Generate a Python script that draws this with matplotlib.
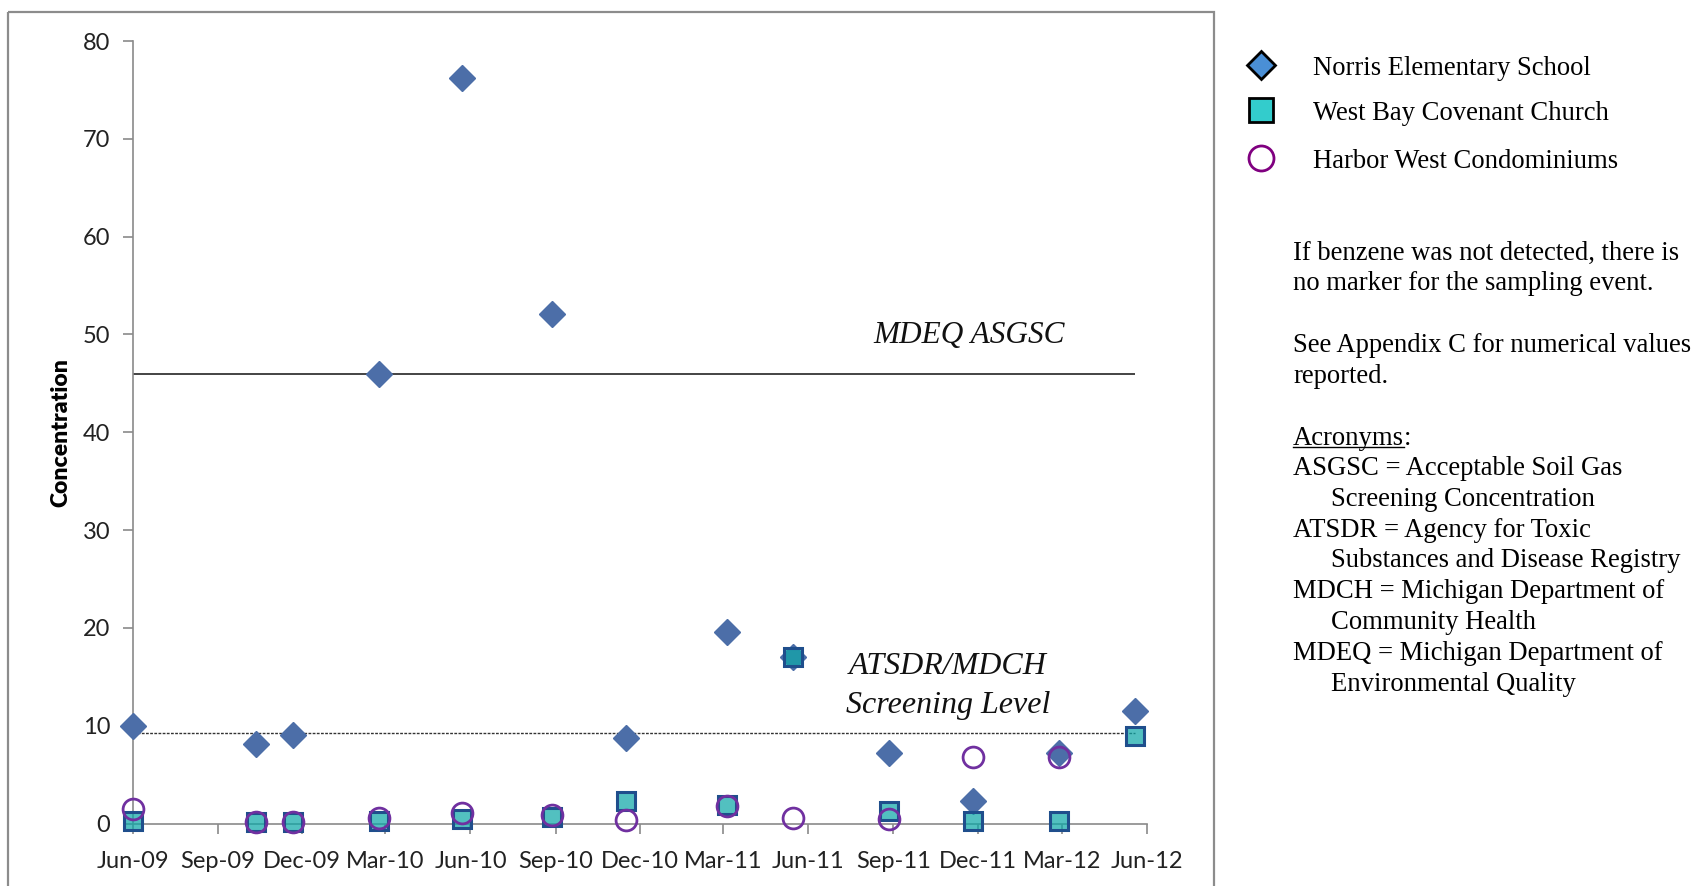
import matplotlib
matplotlib.use('Agg')
import matplotlib.pyplot as plt
import matplotlib.dates as mdates
from matplotlib.patches import Rectangle
import numpy as np
import pandas as pd

# ---------------- data ----------------
sample_dates = ['2009-06-01', '2009-10-12', '2009-11-21', '2010-02-22', '2010-05-23',
                '2010-08-28', '2010-11-16', '2011-03-05', '2011-05-15', '2011-08-27',
                '2011-11-26', '2012-02-27', '2012-05-19']
norris = [10.0, 8.1, 9.0, 46.0, 76.2, 52.1, 8.7, 19.6, 17.0, 7.2, 2.3, 7.2, 11.5]
west_bay = [0.3, 0.2, 0.2, 0.3, 0.5, 0.7, 2.3, 1.9, 17.0, 1.3, 0.3, 0.3, 8.9]
harbor = [1.5, 0.2, 0.2, 0.6, 1.1, 0.9, 0.4, 1.8, 0.6, 0.5, 6.8, 6.8, np.nan]
series_names = ['Norris Elementary School', 'West Bay Covenant Church',
                'Harbor West Condominiums']
mdeq_asgsc = 46.0
atsdr_level = 9.3
y_ticks = [0, 10, 20, 30, 40, 50, 60, 70, 80]
x_start, x_end = '2009-06-01', '2012-06-01'
y_label = 'Concentration'
line_labels = ['MDEQ ASGSC', 'ATSDR/MDCH', 'Screening Level']
note_lines = ['If benzene was not detected, there is',
              'no marker for the sampling event.',
              'See Appendix C for numerical values',
              'reported.']
acronym_head = 'Acronyms'
acronym_lines = [('ASGSC = Acceptable Soil Gas', False),
                 ('Screening Concentration', True),
                 ('ATSDR = Agency for Toxic', False),
                 ('Substances and Disease Registry', True),
                 ('MDCH = Michigan Department of', False),
                 ('Community Health', True),
                 ('MDEQ = Michigan Department of', False),
                 ('Environmental Quality', True)]

dates = pd.to_datetime(sample_dates)

W, H = 1697, 886
fig = plt.figure(figsize=(W / 100, H / 100), dpi=100)

# overlay in pixel coordinates for frame / legend / notes
ov = fig.add_axes([0, 0, 1, 1], zorder=0)
ov.set_xlim(0, W)
ov.set_ylim(H, 0)
ov.axis('off')

ov.add_patch(Rectangle((8, 12), 1214 - 8, H + 20, fill=False,
                       edgecolor='#8c8c8c', linewidth=1.6))

# ---------------- main axes ----------------
left = 132.7 / W
right = 1147.0 / W
bottom = 1 - 823.5 / H
top = 1 - 41.0 / H
ax = fig.add_axes([left, bottom, right - left, top - bottom], zorder=2)
ax.patch.set_alpha(0)

d0 = pd.Timestamp(x_start)
d1 = pd.Timestamp(x_end)
ax.set_xlim(d0, d1)
ax.set_ylim(0, 80)

# threshold lines
ax.hlines(mdeq_asgsc, dates[0], dates[-1], colors='#111111', linewidth=1.1, zorder=2)
ax.hlines(atsdr_level, dates[0], dates[-1], colors='#333333', linewidth=1.0,
          linestyles=(0, (2, 1)), zorder=2)

diamond_color = '#4c6ea8'
ax.plot(dates, norris, linestyle='none', marker='D', markersize=13.5,
        markerfacecolor=diamond_color, markeredgecolor=diamond_color,
        markeredgewidth=1.0, clip_on=False, zorder=3)
ax.plot(dates, west_bay, linestyle='none', marker='s', markersize=13,
        markerfacecolor=(15 / 255, 168 / 255, 168 / 255, 0.72),
        markeredgecolor='#1f4e8c', markeredgewidth=2.2, clip_on=False, zorder=4)
ax.plot(dates, harbor, linestyle='none', marker='o', markersize=15,
        markerfacecolor='none', markeredgecolor='#7030a0',
        markeredgewidth=2.0, clip_on=False, zorder=5)

# axes styling
for s in ['top', 'right']:
    ax.spines[s].set_visible(False)
for s in ['left', 'bottom']:
    ax.spines[s].set_color('#8a8a8a')
    ax.spines[s].set_linewidth(1.2)

ax.set_yticks(y_ticks)
ax.xaxis.set_major_locator(mdates.MonthLocator(bymonth=[3, 6, 9, 12]))
ax.xaxis.set_major_formatter(mdates.DateFormatter('%b-%y'))
ax.tick_params(axis='both', colors='#8a8a8a', length=7, width=1.2,
               labelcolor='#222222', labelsize=17)
ax.tick_params(axis='x', pad=13)
ax.tick_params(axis='y', pad=9)
for lab in ax.get_xticklabels() + ax.get_yticklabels():
    lab.set_fontfamily('Lato')

fig.text(61 / W, 1 - 433 / H, y_label, rotation=90, ha='center', va='center',
         fontsize=16.5, fontweight='heavy', family='Lato', color='#000000')

# line annotations
serif = 'Liberation Serif'
ov.text(969, 336, line_labels[0], ha='center', va='center', fontsize=22.5,
        style='italic', family=serif, color='#111111')
ov.text(948, 666, line_labels[1], ha='center', va='center', fontsize=23,
        style='italic', family=serif, color='#111111')
ov.text(948, 705, line_labels[2], ha='center', va='center', fontsize=23,
        style='italic', family=serif, color='#111111')

# legend
leg_x = 1261
leg_ys = [65, 110, 158]
ov.plot([leg_x], [leg_ys[0]], marker='D', markersize=14, markerfacecolor='#4a8fd6',
        markeredgecolor='black', markeredgewidth=2.0, linestyle='none')
ov.plot([leg_x], [leg_ys[1]], marker='s', markersize=17, markerfacecolor='#33cccc',
        markeredgecolor='black', markeredgewidth=2.0, linestyle='none')
ov.plot([leg_x], [leg_ys[2]], marker='o', markersize=18, markerfacecolor='white',
        markeredgecolor='#800080', markeredgewidth=2.0, linestyle='none')
for name, yy in zip(series_names, leg_ys):
    ov.text(1313, yy + 3, name, ha='left', va='center', fontsize=19.2,
            family=serif, color='black')

# notes
note_ys = [253, 284, 345, 376]
for t, yy in zip(note_lines, note_ys):
    ov.text(1293, yy, t, ha='left', va='center', fontsize=19.2, family=serif,
            color='black')

head = ov.text(1293, 438, acronym_head, ha='left', va='center', fontsize=19.2,
               family=serif, color='black')
fig.canvas.draw()
bb = head.get_window_extent(renderer=fig.canvas.get_renderer())
ov.text(1293 + bb.width, 438, ':', ha='left', va='center', fontsize=19.2,
        family=serif, color='black')
ov.plot([1293, 1293 + bb.width], [447, 447], color='black', linewidth=1.0)

ac_y0 = 468.5
for i, (t, indent) in enumerate(acronym_lines):
    ov.text(1331 if indent else 1293, ac_y0 + i * 30.8, t, ha='left', va='center',
            fontsize=19.2, family=serif, color='black')

fig.savefig('out.png', dpi=100)
